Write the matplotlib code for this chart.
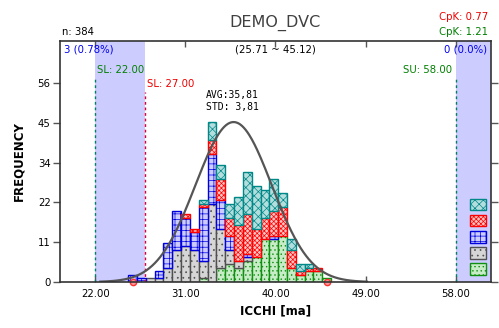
import matplotlib
matplotlib.use("Agg")
import matplotlib.pyplot as plt
import numpy as np
from matplotlib.patches import Rectangle

# --- summary values ---
title = "DEMO_DVC"
x_label = "ICCHI [ma]"
y_label = "FREQUENCY"
n_total = 384
data_min, data_max = 25.71, 45.12
mean, std = 35.81, 3.81
n_bins = 23
sl_outer, sl_inner, su = 22.0, 27.0, 58.0
cpk_low, cpk_high = 0.77, 1.21
below_count, above_count = 3, 0
x_ticks = [22.0, 31.0, 40.0, 49.0, 58.0]

# --- stacked counts per bin (bottom -> top) ---
green = [0, 0, 0, 0, 0, 0, 0, 0, 1, 0, 4, 5, 4, 6, 7, 12, 12, 13, 4, 2, 3, 3, 1]
gray = [0, 0, 1, 1, 4, 9, 10, 9, 5, 22, 11, 4, 2, 1, 0, 0, 0, 0, 0, 0, 0, 0, 0]
blue = [2, 1, 0, 2, 7, 11, 8, 5, 15, 14, 8, 4, 0, 1, 0, 0, 1, 0, 0, 0, 0, 0, 0]
red = [0, 0, 0, 0, 0, 0, 1, 1, 1, 4, 6, 5, 10, 11, 8, 6, 7, 8, 5, 1, 1, 1, 0]
teal = [0, 0, 0, 0, 0, 0, 0, 0, 1, 5, 4, 4, 8, 12, 12, 8, 9, 4, 3, 2, 1, 0, 0]

# face, edge, hatch
styles = [
    (green, "#c8ecc8", "#109010", "...."),
    (gray, "#d6d6d6", "#505050", "..."),
    (blue, "#ccccff", "#0000dd", "+++"),
    (red, "#ffc4c4", "#ff0000", "xxxxxxx"),
    (teal, "#b4dede", "#008888", "xxxx"),
]

plt.rcParams["hatch.linewidth"] = 0.5
plt.rcParams["font.family"] = "DejaVu Sans"

fig = plt.figure(figsize=(4.99, 3.28), dpi=100)
ax = fig.add_axes([0.1208, 0.1402, 0.8626, 0.7348])
x0, x1 = 18.48, 61.52
ax.set_xlim(x0, x1)
ax.set_ylim(0, 67.8)

# spec-limit shading
shade = "#ccccff"
ax.axvspan(sl_outer, sl_inner, color=shade, lw=0, zorder=0)
ax.axvspan(su, x1, color=shade, lw=0, zorder=0)

# histogram bins centred on min .. max
bin_w = (data_max - data_min) / (n_bins - 1)
left_edges = data_min - bin_w / 2 + bin_w * np.arange(n_bins)
bottom = np.zeros(n_bins)
for counts, face, edge, hatch in styles:
    counts = np.array(counts, dtype=float)
    mask = counts > 0
    ax.bar(left_edges[mask], counts[mask], width=bin_w, bottom=bottom[mask],
           align="edge", color=face, edgecolor=edge, hatch=hatch, lw=1.0, zorder=2)
    bottom += counts

# normal curve scaled to tallest bar
xs = np.linspace(mean - 3.5 * std, mean + 3.5 * std, 300)
pdf = np.exp(-0.5 * ((xs - mean) / std) ** 2)
ax.plot(xs, pdf * bottom.max(), color="#555555", lw=1.6, zorder=4)

# min / max markers
ax.plot([data_min, data_max], [0, 0], "o", ms=4.5, mfc="#ff9a9a", mec="#ff3030",
        mew=1.0, clip_on=False, zorder=5)

# spec-limit lines
ax.vlines(sl_outer, 0, 57.5, colors="#008060", linestyles=(0, (2, 2)), lw=1, zorder=3)
ax.vlines(sl_inner, 0, 53.5, colors="#dd0033", linestyles=(0, (2, 2)), lw=1, zorder=3)
ax.vlines(su, 0, 57.5, colors="#008060", linestyles=(0, (2, 2)), lw=1, zorder=3)

fs = 7.3
ax.text(sl_outer + 0.15, 59.7, f"SL: {sl_outer:.2f}", color="#008000", fontsize=fs, va="center")
ax.text(sl_inner + 0.15, 55.6, f"SL: {sl_inner:.2f}", color="#ee0000", fontsize=fs, va="center")
ax.text(su - 0.35, 59.7, f"SU: {su:.2f}", color="#008000", fontsize=fs, va="center", ha="right")

ax.text(18.85, 65.3, f"{below_count} ({below_count / n_total * 100:.2f}%)",
        color="#0000ee", fontsize=fs, va="center")
ax.text(61.15, 65.3, f"{above_count} ({above_count / n_total * 100:.1f}%)",
        color="#0000ee", fontsize=fs, va="center", ha="right")
ax.text(0.5, 65.3, f"({data_min:.2f} ~ {data_max:.2f})", transform=ax.get_yaxis_transform(),
        fontsize=fs, va="center", ha="center")

ax.text(33.05, 52.7, f"AVG:{mean:.2f}".replace(".", ","), family="DejaVu Sans Mono",
        fontsize=7, va="center")
ax.text(33.05, 49.3, f"STD: {std:.2f}".replace(".", ","), family="DejaVu Sans Mono",
        fontsize=7, va="center")

# header texts
fig.text(62 / 499, 1 - 32 / 328, f"n: {n_total}", fontsize=fs, va="center")
fig.text(275 / 499, 1 - 22.5 / 328, title, fontsize=11.5, color="#404040",
         va="center", ha="center")
fig.text(488 / 499, 1 - 17 / 328, f"CpK: {cpk_low:.2f}", fontsize=fs, color="#ee0000",
         va="center", ha="right")
fig.text(488 / 499, 1 - 32 / 328, f"CpK: {cpk_high:.2f}", fontsize=fs, color="#008000",
         va="center", ha="right")

# legend swatches (top -> bottom: teal, red, blue, gray, green)
for i, (_, face, edge, hatch) in enumerate(styles):
    yb = 0.029 + 0.0672 * i
    ax.add_patch(Rectangle((0.952, yb), 0.0365, 0.0485, transform=ax.transAxes,
                           facecolor=face, edgecolor=edge, hatch=hatch, lw=1.0, zorder=6))

# axes and ticks
y_ticks = np.arange(0, 56.1, 11.2)
ax.set_yticks(y_ticks)
ax.set_yticklabels([f"{round(v)}" for v in y_ticks])
ax.set_xticks(x_ticks)
ax.set_xticklabels([f"{v:.2f}" for v in x_ticks])
ax.tick_params(axis="x", direction="in", top=True, length=4, width=1, labelsize=fs, pad=5,
               color="#555555")
ax.tick_params(axis="y", direction="out", length=5, width=1, labelsize=fs, pad=2,
               color="#555555")
ax.tick_params(axis="y", which="both", right=True)
for side in ["left", "bottom", "top", "right"]:
    ax.spines[side].set_color("#333333")
    ax.spines[side].set_linewidth(1.2)
    ax.spines[side].set_zorder(7)

ax.set_xlabel(x_label, fontsize=8.5, fontweight="bold", labelpad=4)
ax.set_ylabel(y_label, fontsize=8.5, fontweight="bold", labelpad=9)

fig.savefig("out.png", dpi=100)
